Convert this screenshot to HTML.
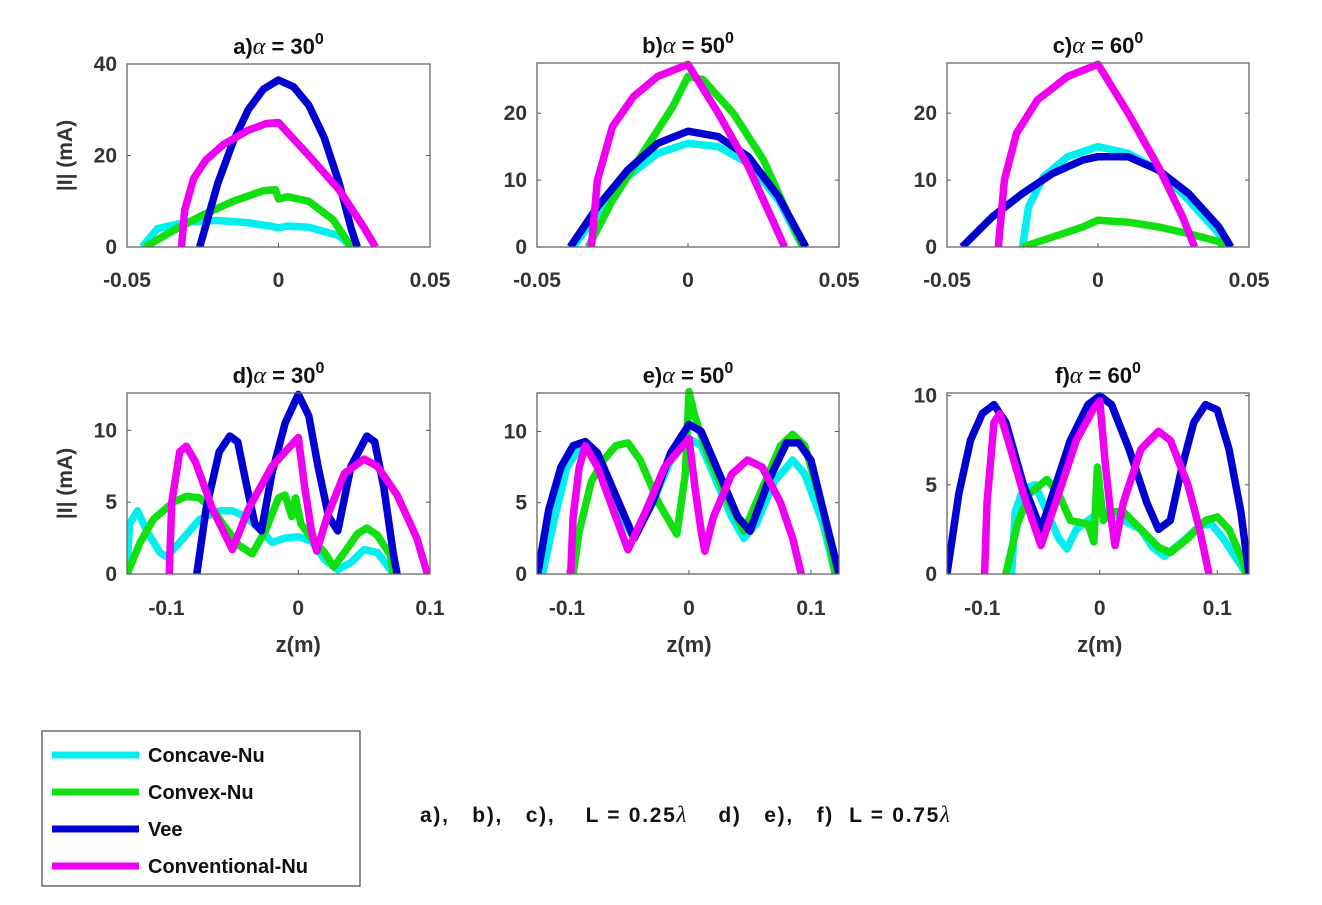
<!DOCTYPE html>
<html><head><meta charset="utf-8">
<style>
html,body{margin:0;padding:0;background:#fff;}
body{width:1322px;height:900px;overflow:hidden;font-family:"Liberation Sans Narrow","Liberation Sans",sans-serif;}
svg text{font-family:"Liberation Sans Narrow","Liberation Sans",sans-serif;font-weight:bold;}
</style></head>
<body>
<svg id="fig" width="1322" height="900" xmlns="http://www.w3.org/2000/svg"></svg>
<script>
const seriesNames=["Concave-Nu","Convex-Nu","Vee","Conventional-Nu"];
const seriesColors=["#00f0f0","#10e010","#0000d0","#f000f0"];
const xTicksTop=[-0.05,0,0.05];
const xTickLabelsTop=["-0.05","0","0.05"];
const xTicksBot=[-0.1,0,0.1];
const xTickLabelsBot=["-0.1","0","0.1"];
const titles=["a)","b)","c)","d)","e)","f)"];
const alphas=["30","50","60","30","50","60"];
const yTicksA=[0,20,40];
const yTicksBC=[0,10,20];
const yTicksDE=[0,5,10];
const yTicksF=[0,5,10];

const aConcave=[[-0.045,0],[-0.04,4],[-0.03,5.5],[-0.02,5.8],[-0.01,5.3],[-0.002,4.5],[0,4.2],[0.003,4.6],[0.01,4.3],[0.02,2.5],[0.024,0]];
const aConvex=[[-0.044,0],[-0.035,3.5],[-0.025,7],[-0.015,10],[-0.005,12.3],[-0.001,12.5],[0,10.5],[0.003,11],[0.01,10],[0.018,6],[0.024,0]];
const aVee=[[-0.026,0],[-0.02,14],[-0.015,23],[-0.01,30],[-0.005,34.5],[0,36.5],[0.005,35],[0.01,31],[0.015,24],[0.02,14],[0.024,4],[0.026,0]];
const aConv=[[-0.032,0],[-0.031,8],[-0.028,15],[-0.024,19],[-0.018,22.5],[-0.01,25.5],[-0.004,27],[0,27.2],[0.01,20],[0.02,12.5],[0.028,4.5],[0.032,0]];

const bConcave=[[-0.038,0],[-0.03,5],[-0.02,10.5],[-0.01,14],[0,15.5],[0.01,15],[0.02,12.5],[0.03,7],[0.038,0]];
const bConvex=[[-0.033,0],[-0.025,7],[-0.015,14],[-0.005,21],[0,25.5],[0.005,25],[0.015,20],[0.025,13],[0.033,5],[0.038,0]];
const bVee=[[-0.039,0],[-0.03,6],[-0.02,11.5],[-0.01,15.5],[0,17.3],[0.01,16.5],[0.02,13.5],[0.03,7.5],[0.039,0]];
const bConv=[[-0.032,0],[-0.03,10],[-0.025,18],[-0.018,22.5],[-0.01,25.5],[0,27.3],[0.01,20],[0.02,12],[0.028,4],[0.032,0]];

const cConcave=[[-0.025,0],[-0.023,6],[-0.018,10.5],[-0.01,13.5],[0,15],[0.01,14],[0.02,11.5],[0.03,7],[0.04,2],[0.042,0]];
const cConvex=[[-0.025,0],[-0.015,1.5],[-0.005,3],[0,4],[0.01,3.7],[0.02,3],[0.03,2],[0.04,0.8],[0.042,0]];
const cVee=[[-0.045,0],[-0.035,4.5],[-0.025,8],[-0.015,11],[-0.005,13],[0,13.5],[0.01,13.5],[0.02,11.5],[0.03,8],[0.04,3],[0.044,0]];
const cConv=[[-0.033,0],[-0.031,10],[-0.027,17],[-0.02,22],[-0.01,25.5],[0,27.3],[0.01,20],[0.02,12],[0.028,4.5],[0.032,0]];

const dConcave=[[-0.13,0.5],[-0.128,3.5],[-0.122,4.4],[-0.115,3],[-0.105,1.5],[-0.1,1.2],[-0.09,2.2],[-0.075,3.8],[-0.06,4.4],[-0.05,4.4],[-0.04,4],[-0.03,3.2],[-0.02,2.2],[-0.01,2.5],[0,2.6],[0.01,2.3],[0.02,1],[0.03,0.3],[0.04,0.8],[0.05,1.7],[0.06,1.5],[0.07,0.3],[0.072,0]];
const dConvex=[[-0.13,0],[-0.12,2.2],[-0.11,3.8],[-0.095,5],[-0.085,5.4],[-0.075,5.3],[-0.065,4.5],[-0.055,3.2],[-0.045,2],[-0.035,1.4],[-0.025,3],[-0.015,5.3],[-0.01,5.5],[-0.005,4],[-0.002,5.3],[0.002,3.5],[0.01,2.5],[0.02,1.5],[0.027,0.5],[0.035,1.5],[0.045,2.8],[0.052,3.2],[0.06,2.7],[0.07,1.3],[0.072,0]];
const dVee=[[-0.077,0],[-0.07,4.5],[-0.06,8.5],[-0.052,9.6],[-0.046,9.2],[-0.04,6.5],[-0.033,3.5],[-0.028,3],[-0.02,7],[-0.01,10.5],[0,12.5],[0.008,11],[0.015,7.5],[0.023,4],[0.03,3],[0.04,7.5],[0.052,9.6],[0.058,9.2],[0.065,6],[0.072,1.5],[0.075,0]];
const dConv=[[-0.098,0],[-0.096,5],[-0.09,8.5],[-0.085,8.9],[-0.078,7.8],[-0.065,4.5],[-0.05,1.7],[-0.038,4.5],[-0.02,7.5],[-0.005,9],[0,9.5],[0.005,6],[0.01,3],[0.014,1.6],[0.022,4],[0.035,7],[0.05,8],[0.06,7.5],[0.075,5.5],[0.09,2.5],[0.098,0]];

const eConcave=[[-0.12,0],[-0.11,4],[-0.1,7.5],[-0.09,8.8],[-0.08,8.5],[-0.07,7],[-0.055,4],[-0.045,2.5],[-0.03,5],[-0.015,8],[0,9.5],[0.01,9],[0.02,7],[0.035,4],[0.045,2.5],[0.055,3.5],[0.07,6.5],[0.085,8],[0.095,7],[0.11,3.5],[0.12,0]];
const eConvex=[[-0.095,0],[-0.09,3],[-0.08,6.5],[-0.07,8],[-0.06,9],[-0.05,9.2],[-0.04,8],[-0.025,5],[-0.01,2.8],[-0.003,7],[0,12.8],[0.005,11],[0.015,8.5],[0.03,5.5],[0.045,3],[0.06,6],[0.075,9],[0.085,9.8],[0.095,9],[0.11,4.5],[0.12,0]];
const eVee=[[-0.124,0],[-0.115,4.5],[-0.105,7.5],[-0.095,9],[-0.085,9.3],[-0.075,8.5],[-0.06,5.5],[-0.045,2.5],[-0.03,5],[-0.015,8.5],[0,10.5],[0.01,10],[0.025,7],[0.04,4],[0.05,3],[0.065,6.5],[0.08,9.2],[0.09,9.2],[0.1,8],[0.11,4.5],[0.123,0]];
const eConv=[[-0.097,0],[-0.095,4],[-0.09,7.5],[-0.085,9],[-0.075,7.5],[-0.06,4],[-0.05,1.7],[-0.035,4.5],[-0.02,7.5],[-0.005,9],[0,9.5],[0.005,6],[0.01,3],[0.013,1.6],[0.02,4],[0.035,7],[0.048,8],[0.06,7.5],[0.075,5],[0.085,2.5],[0.092,0]];

const fConcave=[[-0.075,0],[-0.072,3.5],[-0.065,4.8],[-0.055,5],[-0.045,3.5],[-0.035,2],[-0.028,1.4],[-0.02,2.5],[-0.01,3],[0,3.5],[0.01,3.5],[0.02,3],[0.035,2.5],[0.045,1.5],[0.055,1],[0.07,1.8],[0.085,2.7],[0.095,2.8],[0.105,2],[0.115,1],[0.125,0]];
const fConvex=[[-0.08,0],[-0.07,2.8],[-0.06,4.5],[-0.045,5.3],[-0.035,4.5],[-0.025,3],[-0.01,2.8],[-0.005,1.8],[-0.002,6],[0.003,3],[0.01,3.5],[0.02,3.5],[0.035,2.5],[0.05,1.5],[0.06,1.2],[0.075,2],[0.09,3],[0.1,3.2],[0.11,2.5],[0.12,1],[0.125,0]];
const fVee=[[-0.13,0],[-0.12,4.5],[-0.11,7.5],[-0.1,9],[-0.09,9.5],[-0.08,8.5],[-0.065,5],[-0.05,2.5],[-0.04,4.5],[-0.025,7.5],[-0.01,9.5],[0,10],[0.01,9.5],[0.025,7],[0.04,4],[0.05,2.5],[0.06,3],[0.07,6],[0.08,8.5],[0.09,9.5],[0.1,9.2],[0.11,7],[0.12,3.5],[0.127,0]];
const fConv=[[-0.098,0],[-0.096,4],[-0.09,8.5],[-0.085,9],[-0.078,7.5],[-0.065,4.5],[-0.05,1.6],[-0.035,4.5],[-0.02,7.5],[-0.005,9.3],[0,9.7],[0.005,6],[0.01,3],[0.013,1.6],[0.02,4],[0.035,7],[0.05,8],[0.06,7.5],[0.075,5],[0.085,2.5],[0.093,0]];

const NS="http://www.w3.org/2000/svg";
const svg=document.getElementById('fig');
function mk(tag,attrs,parent){const e=document.createElementNS(NS,tag);for(const k in attrs)e.setAttribute(k,attrs[k]);(parent||svg).appendChild(e);return e;}

const panels=[
 {box:[127,64,303,183],xr:[-0.05,0.05],yr:[0,40],xt:xTicksTop,xl:xTickLabelsTop,yt:yTicksA,ser:[aConcave,aConvex,aVee,aConv],ylab:true,zlab:false},
 {box:[537,63,302,184],xr:[-0.05,0.05],yr:[0,27.5],xt:xTicksTop,xl:xTickLabelsTop,yt:yTicksBC,ser:[bConcave,bConvex,bVee,bConv],ylab:false,zlab:false},
 {box:[947,63,302,184],xr:[-0.05,0.05],yr:[0,27.5],xt:xTicksTop,xl:xTickLabelsTop,yt:yTicksBC,ser:[cConcave,cConvex,cVee,cConv],ylab:false,zlab:false},
 {box:[127,393,303,181],xr:[-0.13,0.1],yr:[0,12.6],xt:xTicksBot,xl:xTickLabelsBot,yt:yTicksDE,ser:[dConcave,dConvex,dVee,dConv],ylab:true,zlab:true},
 {box:[537,393,302,181],xr:[-0.1246,0.123],yr:[0,12.7],xt:xTicksBot,xl:xTickLabelsBot,yt:yTicksDE,ser:[eConcave,eConvex,eVee,eConv],ylab:false,zlab:true},
 {box:[947,393,302,181],xr:[-0.13,0.127],yr:[0,10.15],xt:xTicksBot,xl:xTickLabelsBot,yt:yTicksF,ser:[fConcave,fConvex,fVee,fConv],ylab:false,zlab:true}
];

panels.forEach((p,i)=>{
  const [bx,by,bw,bh]=p.box;
  const g=mk('g',{});
  
  
  const sx=v=>bx+(v-p.xr[0])/(p.xr[1]-p.xr[0])*bw;
  const sy=v=>by+bh-(v-p.yr[0])/(p.yr[1]-p.yr[0])*bh;
  const clipId='clip'+i;
  const cp=mk('clipPath',{id:clipId},g);
  mk('rect',{x:bx,y:by-6,width:bw,height:bh+6},cp);
  p.xt.forEach((t,k)=>{
    const x=sx(t);
    const tk=mk('line',{x1:x,y1:by+bh,x2:x,y2:by+bh-4,stroke:'#555','stroke-width':1},g);
    
    
    const tl=mk('text',{x:x,y:by+bh+(i<3?40:41),'text-anchor':'middle','font-size':21,fill:'#333'},g);
    
    
    tl.textContent=p.xl[k];
  });
  p.yt.forEach(t=>{
    const y=sy(t);
    mk('line',{x1:bx,y1:y,x2:bx+4,y2:y,stroke:'#555','stroke-width':1},g);
    mk('line',{x1:bx+bw,y1:y,x2:bx+bw-4,y2:y,stroke:'#555','stroke-width':1},g);
    const tl=mk('text',{x:bx-10,y:y+7,'text-anchor':'end','font-size':21,fill:'#333'},g);
    
    
    tl.textContent=String(t);
  });
  p.ser.forEach((s,k)=>{
    const d=s.map((pt,j)=>(j?'L':'M')+sx(pt[0]).toFixed(1)+','+sy(pt[1]).toFixed(1)).join(' ');
    const path=mk('path',{d:d,fill:'none',stroke:seriesColors[k],'stroke-width':7.5,'stroke-linejoin':'round','clip-path':'url(#'+clipId+')'},g);
    
    
  });
  const frame=mk('rect',{x:bx,y:by,width:bw,height:bh,fill:'none',stroke:'#666','stroke-width':1.3},g);
  
  
  const tt=mk('text',{x:bx+bw/2,y:by-10,'text-anchor':'middle','font-size':22,fill:'#111'},g);
  
  
  tt.innerHTML=titles[i]+'<tspan font-style="italic" font-family="Liberation Serif,serif" font-weight="normal" font-size="24">α</tspan> = '+alphas[i]+'<tspan dy="-10" font-size="16">0</tspan>';
  if(p.ylab){
    const cy=by+bh/2;
    const yl=mk('text',{x:0,y:0,'text-anchor':'middle','font-size':21,fill:'#333',transform:'translate(72,'+cy+') rotate(-90)'},g);
    
    
    yl.textContent='|I| (mA)';
  }
  if(p.zlab){
    const zl=mk('text',{x:sx(0),y:652,'text-anchor':'middle','font-size':22,fill:'#333'},g);
    
    
    zl.textContent='z(m)';
  }
});

const lg=mk('g',{});


mk('rect',{x:42,y:731,width:318,height:155,fill:'#fff',stroke:'#555','stroke-width':1.3},lg);
seriesNames.forEach((n,k)=>{
  const y=755+k*37;
  const ln=mk('line',{x1:52,y1:y,x2:139,y2:y,stroke:seriesColors[k],'stroke-width':7},lg);
  
  
  const t=mk('text',{x:148,y:y+7,'font-size':20,fill:'#111'},lg);
  
  
  t.textContent=n;
});
const note=mk('text',{x:420,y:822,'font-size':21,fill:'#111',style:'white-space:pre',textLength:530,lengthAdjust:'spacing'});


note.innerHTML='a),   b),   c),    L = 0.25<tspan font-family="Liberation Serif,serif" font-style="italic" font-weight="normal" font-size="23">λ</tspan>    d)   e),   f)  L = 0.75<tspan font-family="Liberation Serif,serif" font-style="italic" font-weight="normal" font-size="23">λ</tspan>';
</script>
</body></html>
